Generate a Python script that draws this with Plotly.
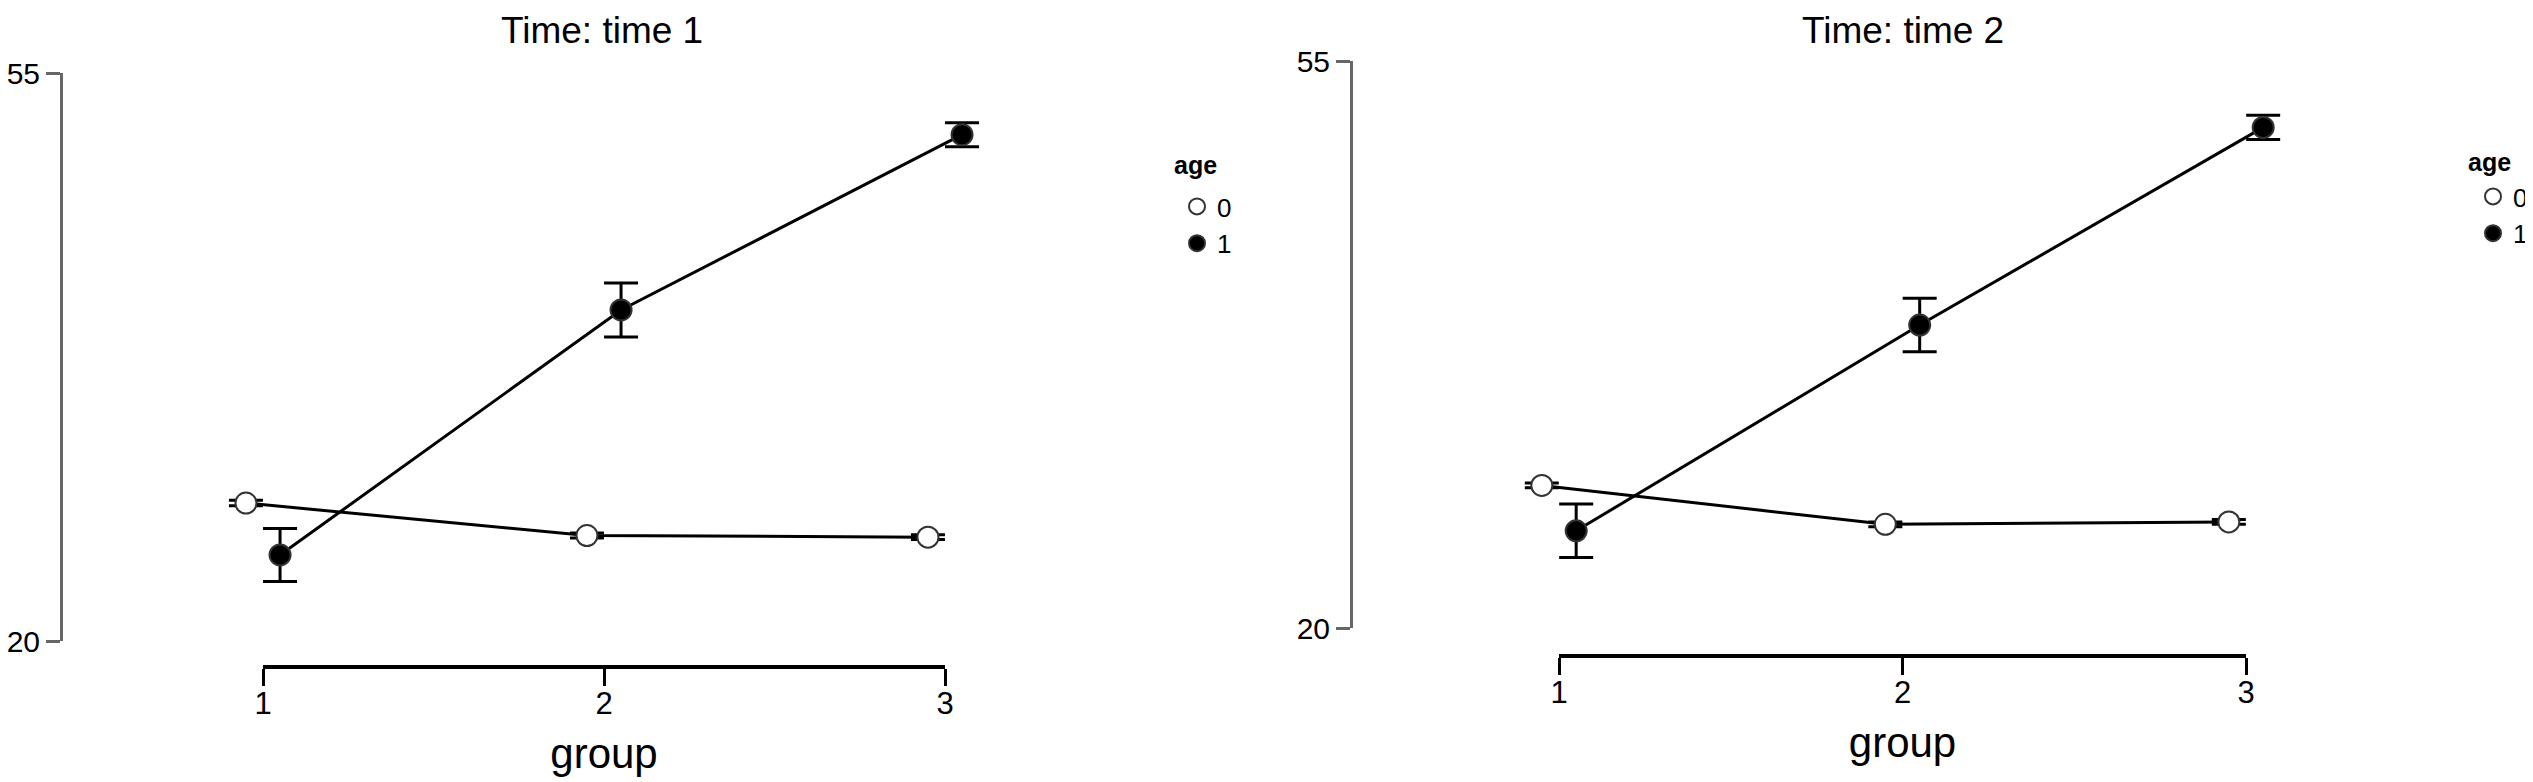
import plotly.graph_objects as go

# figure size in pixels
W, H = 2533, 782
OFF = 8  # page body margin shifts the figure by this much

groups = [1, 2, 3]
ages = ['0', '1']
panel_titles = ['Time: time 1', 'Time: time 2']

# means and error (half-length) per panel
t1_age0 = [28.5, 26.5, 26.4]
t1_age0_err = [0.17, 0.15, 0.15]
t1_age1 = [25.3, 40.4, 51.2]
t1_age1_err = [1.63, 1.66, 0.74]

t2_age0 = [28.8, 26.4, 26.55]
t2_age0_err = [0.15, 0.15, 0.15]
t2_age1 = [26.0, 38.7, 50.9]
t2_age1_err = [1.65, 1.65, 0.75]

y_ticks = [20, 55]

FONT = 'Liberation Sans, Arial, sans-serif'
dodge = 0.05


def fx(px):
    return (px - OFF) / W


def fy(py):
    return 1 - (py - OFF) / H


# screen pixel layout for each panel
panels = [
    dict(yx=61, ytop=73, ybot=641, xy=667, x1=263, x3=945, tx=602, ty=30,
         lx=1177, ly=183, ax=1195, ay=165),
    dict(yx=1351, ytop=61, ybot=628, xy=656, x1=1559, x3=2246, tx=1903, ty=30,
         lx=2473, ly=173, ax=2489, ay=162),
]
series = [
    [(t1_age0, t1_age0_err), (t1_age1, t1_age1_err)],
    [(t2_age0, t2_age0_err), (t2_age1, t2_age1_err)],
]

fig = go.Figure()
layout = dict(width=W, height=H, margin=dict(l=0, r=0, t=0, b=0, autoexpand=False),
              plot_bgcolor='rgba(0,0,0,0)', paper_bgcolor='white',
              font=dict(family=FONT, color='black'), annotations=[])

for p, (cfg, data) in enumerate(zip(panels, series)):
    n = p + 1
    xd = 'x' if n == 1 else 'x%d' % n          # data x axis
    xs = 'x%d' % (n + 2)                        # display x axis
    ya = 'y' if n == 1 else 'y%d' % n
    leg = 'legend' if n == 1 else 'legend2'

    scale = (cfg['x3'] - cfg['x1']) / 2.0
    lo, hi = 0.8, 3.2
    px0 = cfg['x1'] - (1 - lo) * scale
    px1 = cfg['x3'] + (hi - 3) * scale

    # lines first
    for k, (vals, err) in enumerate(data):
        off = -dodge if k == 0 else dodge
        xs_vals = [g + off for g in groups]
        fig.add_trace(go.Scatter(x=xs_vals, y=vals, mode='lines', xaxis=xd, yaxis=ya,
                                 line=dict(color='black', width=3), showlegend=False,
                                 hoverinfo='skip'))
    for k, (vals, err) in enumerate(data):
        off = -dodge if k == 0 else dodge
        xs_vals = [g + off for g in groups]
        fill = 'white' if k == 0 else 'black'
        fig.add_trace(go.Scatter(
            x=xs_vals, y=vals, mode='markers', xaxis=xd, yaxis=ya, name=ages[k],
            legend=leg, showlegend=True,
            marker=dict(size=21, color=fill, line=dict(color='#333', width=2)),
            error_y=dict(type='data', array=err, color='black', thickness=3, width=17),
        ))
    # empty trace so the display x axis is drawn
    fig.add_trace(go.Scatter(x=[], y=[], xaxis=xs, yaxis=ya, showlegend=False))

    yname = 'yaxis' if n == 1 else 'yaxis%d' % n
    layout[yname] = dict(
        domain=[fy(cfg['ybot']), fy(cfg['ytop'])], range=[20, 55],
        anchor='free', position=fx(cfg['yx']),
        showline=True, linecolor='#666', linewidth=3,
        ticks='outside', ticklen=14, tickwidth=3, tickcolor='#666',
        tickvals=y_ticks, tickfont=dict(size=30, color='black'),
        showgrid=False, zeroline=False,
    )
    xdname = 'xaxis' if n == 1 else 'xaxis%d' % n
    layout[xdname] = dict(domain=[fx(px0), fx(px1)], range=[lo, hi], anchor=ya,
                          visible=False, showgrid=False, zeroline=False)
    layout['xaxis%d' % (n + 2)] = dict(
        domain=[fx(cfg['x1']), fx(cfg['x3'])], range=[1, 3],
        anchor='free', position=fy(cfg['xy']),
        showline=True, linecolor='black', linewidth=4,
        ticks='outside', ticklen=17, tickwidth=3, tickcolor='black',
        ticklabelstandoff=-9,
        tickvals=groups, tickfont=dict(size=31, color='black'),
        title=dict(text='group', font=dict(size=42, color='black'), standoff=17),
        showgrid=False, zeroline=False,
    )
    layout[leg] = dict(
        x=fx(cfg['lx']), y=fy(cfg['ly']), xanchor='left', yanchor='top',
        font=dict(size=26), bgcolor='rgba(0,0,0,0)', tracegroupgap=0,
    )
    # legend heading
    layout['annotations'].append(dict(
        text='<b>age</b>', x=fx(cfg['ax']), y=fy(cfg['ay']),
        xref='paper', yref='paper', xanchor='center', yanchor='middle',
        showarrow=False, font=dict(size=25, color='black'),
    ))
    layout['annotations'].append(dict(
        text=panel_titles[p], x=fx(cfg['tx']), y=fy(cfg['ty']),
        xref='paper', yref='paper', xanchor='center', yanchor='middle',
        showarrow=False, font=dict(size=37, color='black'),
    ))

fig.update_layout(**layout)
fig.write_html('out.html')
